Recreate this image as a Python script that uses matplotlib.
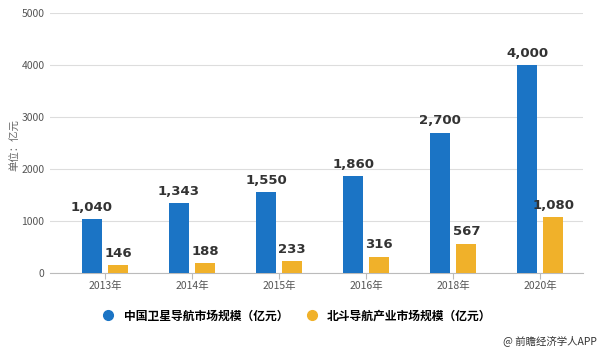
import numpy as np
import matplotlib
matplotlib.use("Agg")
import matplotlib.pyplot as plt
from matplotlib.lines import Line2D

plt.rcParams["font.family"] = ["Noto Sans CJK SC", "DejaVu Sans"]

years = ["2013年", "2014年", "2015年", "2016年", "2018年", "2020年"]
gnss_market = [1040, 1343, 1550, 1860, 2700, 4000]
beidou_market = [146, 188, 233, 316, 567, 1080]
series_names = ["中国卫星导航市场规模（亿元）", "北斗导航产业市场规模（亿元）"]
y_ticks = [0, 1000, 2000, 3000, 4000, 5000]

BLUE = "#1b74c5"
YELLOW = "#f0b12a"

fig = plt.figure(figsize=(6.0, 3.51), dpi=100)
ax = fig.add_axes([50 / 600, 78 / 351, 533 / 600, 260 / 351])

x = np.arange(len(years))
w = 0.23
off = 0.15
ax.bar(x - off, gnss_market, width=w, color=BLUE, zorder=3)
ax.bar(x + off, beidou_market, width=w, color=YELLOW, zorder=3)

for xi, v in zip(x, gnss_market):
    ax.text(xi - off, v + 100, f"{v:,}", ha="center", va="bottom",
            fontsize=9.5, fontweight="bold", color="#333333", family="DejaVu Sans")
for xi, v in zip(x, beidou_market):
    ax.text(xi + off, v + 100, f"{v:,}", ha="center", va="bottom",
            fontsize=9.5, fontweight="bold", color="#333333", family="DejaVu Sans")

ax.set_xlim(-0.63, 5.49)
ax.set_ylim(0, 5000)
ax.set_yticks(y_ticks)
ax.set_yticklabels([str(t) for t in y_ticks])
ax.set_xticks(x)
ax.set_xticklabels(years)
ax.grid(axis="y", color="#dddddd", linewidth=0.8, zorder=0)

for s in ["top", "right", "left"]:
    ax.spines[s].set_visible(False)
ax.spines["bottom"].set_color("#bbbbbb")
ax.tick_params(axis="y", length=0, labelsize=7.5, labelcolor="#555555", pad=4)
ax.tick_params(axis="x", length=4, color="#bbbbbb", labelsize=7.5,
               labelcolor="#555555", pad=2)

fig.text(15 / 600, 1 - 145 / 351, "单位：亿元", rotation=90, ha="center",
         va="center", fontsize=7.5, color="#666666")

handles = [
    Line2D([], [], marker="o", linestyle="", markersize=7, color=BLUE),
    Line2D([], [], marker="o", linestyle="", markersize=7, color=YELLOW),
]
leg = fig.legend(handles, series_names, loc="center", ncol=2,
                 bbox_to_anchor=(0.49, 1 - 316 / 351), frameon=False,
                 handletextpad=0.3, columnspacing=1.0,
                 prop={"size": 8.5, "weight": "bold"})

fig.text(597 / 600, 1 - 341 / 351, "@ 前瞻经济学人APP", ha="right",
         va="center", fontsize=7.5, color="#333333")

fig.savefig("out.png", dpi=100, facecolor="white")
